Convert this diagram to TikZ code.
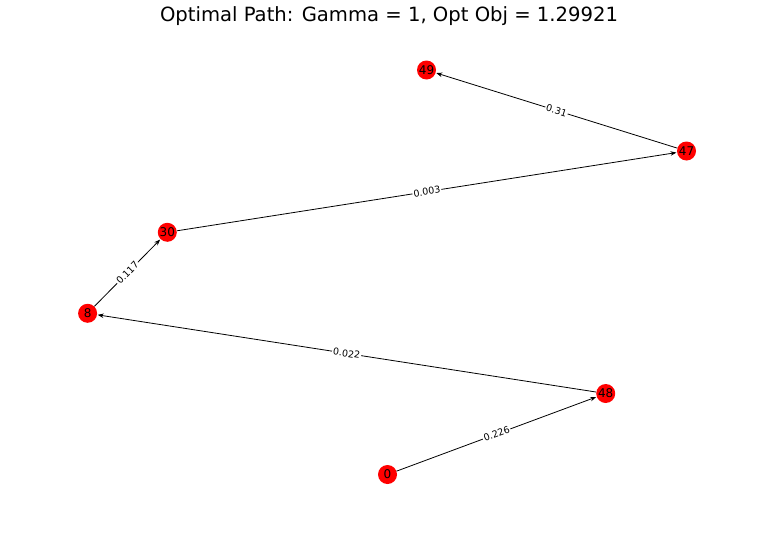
\documentclass[tikz,border=0pt]{standalone}
\usepackage{fontspec}
\setmainfont{DejaVu Sans}
\usetikzlibrary{arrows.meta}
\begin{document}
\begin{tikzpicture}[x=1pt,y=-1pt,
  vertex/.style={circle,fill=red,inner sep=0pt,minimum size=19pt,font=\fontsize{12}{12}\selectfont},
  link/.style={-{Stealth[length=6pt,width=4.5pt]},line width=0.8pt,shorten >=0.5pt},
  wt/.style={midway,sloped,fill=white,inner sep=1pt,font=\fontsize{9.5}{10}\selectfont}]
\useasboundingbox (0,0) rectangle (759,546);
\node[font=\fontsize{19.6}{21}\selectfont] (title) at (389,16) {Optimal Path: Gamma = 1, Opt Obj = 1.29921};
\node[vertex] (n49) at (426.5,70) {49};
\node[vertex] (n47) at (686.5,151) {47};
\node[vertex] (n30) at (167.3,232.3) {30};
\node[vertex] (n8)  at (87.6,313.3) {8};
\node[vertex] (n48) at (605.7,393.5) {48};
\node[vertex] (n0)  at (387.5,474.5) {0};
\draw[link] (n0)  -- node[wt] {0.226} (n48);
\draw[link] (n48) -- node[wt] {0.022} (n8);
\draw[link] (n8)  -- node[wt] {0.117} (n30);
\draw[link] (n30) -- node[wt] {0.003} (n47);
\draw[link] (n47) -- node[wt] {0.31} (n49);
\end{tikzpicture}
\end{document}
